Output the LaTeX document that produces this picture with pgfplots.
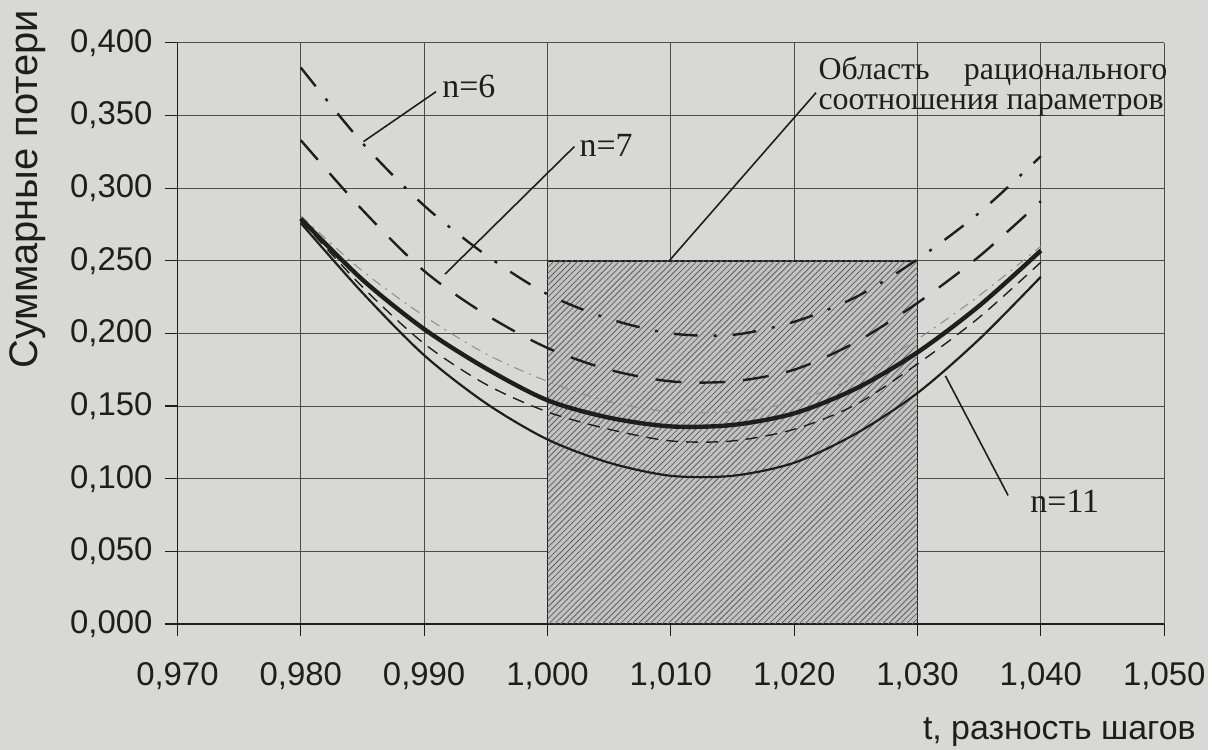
\documentclass[border=0pt]{standalone}
\usepackage{fontspec}
\setmainfont{Liberation Sans}
\newfontfamily\seriffont{Liberation Serif}
\usepackage{pgfplots}
\pgfplotsset{compat=1.18}
\usetikzlibrary{patterns}
\definecolor{bg}{RGB}{216,216,214}
\definecolor{ink}{RGB}{30,30,30}
\begin{document}
\begin{tikzpicture}
\fill[bg] (-89bp,-63bp) rectangle (517bp,313bp);
\begin{axis}[
  at={(0,0)}, anchor=south west,
  scale only axis, width=495bp, height=291.5bp,
  xmin=0.970, xmax=1.050, ymin=0, ymax=0.400,
  xtick={0.970,0.980,...,1.0501}, ytick={0,0.05,...,0.401},
  axis x line=bottom, axis y line=left,
  axis line style={-, ink, line width=0.7bp},
  grid=major, grid style={black!70, line width=0.5bp},
  tick align=outside, major tick length=6bp,
  tick style={ink, line width=0.6bp},
  scaled ticks=false,
  /pgf/number format/.cd, fixed, fixed zerofill, precision=3, use comma, assume math mode=true,
  /pgfplots/.cd,
  ticklabel style={font=\fontsize{16.5bp}{18bp}\selectfont, text=ink},
  xticklabel style={yshift=-10bp},
  yticklabel style={xshift=-3bp},
  xlabel={t, разность шагов},
  xlabel style={at={(axis description cs:1,0)}, anchor=east, xshift=16bp, yshift=-54bp, inner sep=0pt, font=\fontsize{17bp}{19bp}\selectfont, text=ink},
  ylabel={Суммарные потери},
  ylabel style={at={(axis description cs:-0.1515,0.748)}, anchor=center, inner sep=0pt, font=\fontsize{20bp}{22bp}\selectfont, text=ink},
  clip=false,
]
% hatched region
\addplot[draw=ink, line width=0.9bp, fill=black!24] coordinates {(1.000,0) (1.000,0.250) (1.030,0.250) (1.030,0)} -- cycle;
\addplot[draw=none, pattern=north east lines, pattern color=black!62] coordinates {(1.000,0) (1.000,0.250) (1.030,0.250) (1.030,0)} -- cycle;
% faint thin dash-dot curve above thick one
\addplot[smooth, black!45, line width=0.5bp, dash pattern=on 5bp off 3bp on 1bp off 3bp] coordinates {
(0.980,0.281) (0.985,0.243) (0.990,0.212) (0.995,0.186) (1.000,0.167) (1.005,0.153) (1.010,0.146) (1.015,0.146) (1.020,0.153) (1.025,0.170) (1.030,0.196) (1.035,0.226) (1.040,0.260)};
% n=6 dash-dot
\addplot[smooth, ink, line width=1.2bp, dash pattern=on 12bp off 8bp on 1.5bp off 8bp] coordinates {
(0.980,0.383) (0.985,0.331) (0.990,0.288) (0.995,0.254) (1.000,0.227) (1.005,0.210) (1.010,0.200) (1.015,0.199) (1.020,0.208) (1.025,0.225) (1.030,0.251) (1.035,0.283) (1.040,0.322)};
% n=7 dashed
\addplot[smooth, ink, line width=1.2bp, dash pattern=on 13bp off 9bp] coordinates {
(0.980,0.333) (0.985,0.285) (0.990,0.243) (0.995,0.213) (1.000,0.190) (1.005,0.175) (1.010,0.167) (1.015,0.167) (1.020,0.175) (1.025,0.194) (1.030,0.221) (1.035,0.253) (1.040,0.291)};
% thick solid
\addplot[smooth, ink, line width=2.2bp] coordinates {
(0.980,0.279) (0.985,0.237) (0.990,0.203) (0.995,0.176) (1.000,0.154) (1.005,0.142) (1.010,0.136) (1.015,0.137) (1.020,0.145) (1.025,0.162) (1.030,0.187) (1.035,0.219) (1.040,0.257)};
% thin dashed
\addplot[smooth, ink, line width=0.7bp, dash pattern=on 6bp off 4bp] coordinates {
(0.980,0.278) (0.985,0.232) (0.990,0.193) (0.995,0.165) (1.000,0.146) (1.005,0.134) (1.010,0.126) (1.015,0.126) (1.020,0.134) (1.025,0.151) (1.030,0.179) (1.035,0.211) (1.040,0.249)};
% n=11 thin solid
\addplot[smooth, ink, line width=1.1bp] coordinates {
(0.980,0.276) (0.985,0.228) (0.990,0.185) (0.995,0.152) (1.000,0.127) (1.005,0.111) (1.010,0.102) (1.015,0.102) (1.020,0.111) (1.025,0.131) (1.030,0.159) (1.035,0.196) (1.040,0.239)};
% annotations
\draw[ink, line width=0.8bp] (axis cs:0.99097,0.3664) -- (axis cs:0.98508,0.332);
\node[font=\seriffont\fontsize{17bp}{19bp}\selectfont, text=ink] at (axis cs:0.99363,0.3698) {n=6};
\draw[ink, line width=0.8bp] (axis cs:1.00218,0.3286) -- (axis cs:0.99169,0.2408);
\node[font=\seriffont\fontsize{17bp}{19bp}\selectfont, text=ink] at (axis cs:1.00476,0.3293) {n=7};
\draw[ink, line width=0.8bp] (axis cs:1.02177,0.3657) -- (axis cs:1.00984,0.2497);
\node[anchor=north west, inner sep=0pt, align=left, font=\seriffont\fontsize{16bp}{15bp}\selectfont, text=ink] at (axis cs:1.02194,0.3910) {\makebox[175bp][s]{Область\hfill рационального}\\соотношения параметров};
\draw[ink, line width=0.8bp] (axis cs:1.03226,0.1708) -- (axis cs:1.03734,0.0885);
\node[font=\seriffont\fontsize{17bp}{19bp}\selectfont, text=ink] at (axis cs:1.04194,0.0844) {n=11};
\end{axis}
\end{tikzpicture}
\end{document}
